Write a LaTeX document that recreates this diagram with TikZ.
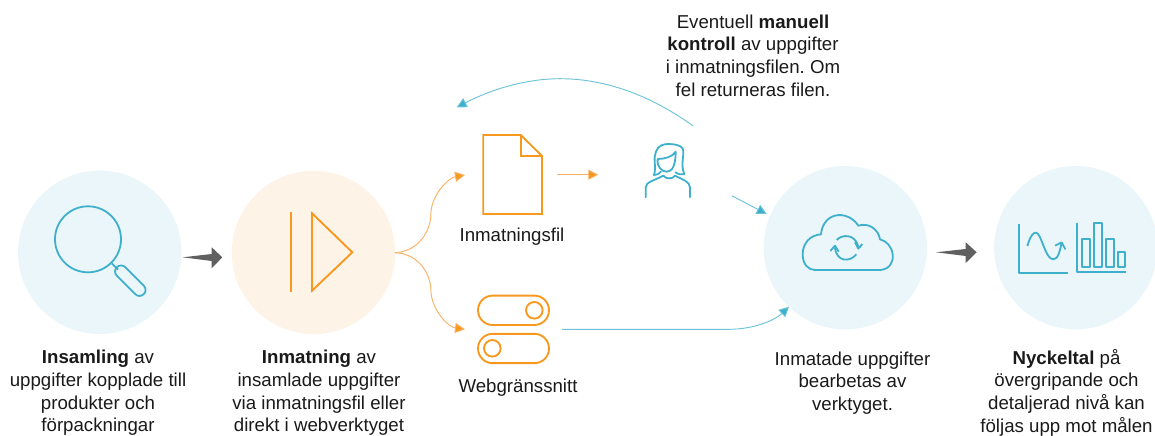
\documentclass[tikz,border=0pt]{standalone}
\usepackage{fontspec}
\setmainfont{Liberation Sans}
\usetikzlibrary{arrows.meta}
\definecolor{tealfill}{HTML}{EAF6F9}
\definecolor{orangefill}{HTML}{FEF3E7}
\definecolor{tealline}{HTML}{3FB0CC}
\definecolor{tealicon}{HTML}{52B9D3}
\definecolor{tealthin}{HTML}{6CC3D8}
\definecolor{orangeline}{HTML}{F7981F}
\definecolor{orangethin}{HTML}{F9B163}
\definecolor{greyarrow}{HTML}{606060}
\definecolor{txt}{HTML}{1A1A1A}
\tikzset{
  disc/.style={circle,draw=none,minimum size=122.5pt,inner sep=0pt},
  label text/.style={align=center,font=\fontsize{14pt}{17pt}\selectfont,text=txt,inner sep=0pt},
  tealicon/.style={draw=tealline,line width=1.35pt,line join=round},
  orangeicon/.style={draw=orangeline,line width=1.4pt,line join=miter},
  orangeflow/.style={draw=orangethin,line width=.7pt,-{Triangle[length=7.5pt,width=7.5pt,fill=orangeline]}},
  tealflow/.style={draw=tealthin,line width=.7pt,-{Triangle[length=7.5pt,width=7.5pt,fill=tealline]}},
  bigarrow/.style={fill=greyarrow,draw=none},
  third/.style={x=.25pt,y=-.25pt}
}
\begin{document}
\frenchspacing
\begin{tikzpicture}[x=.75pt,y=-.75pt]
\useasboundingbox (0,0) rectangle (1155,435);
% discs
\node[disc,fill=tealfill] (search) at (99.7,252.3) {};
\node[disc,fill=orangefill] (input) at (313.5,252.5) {};
\node[disc,fill=tealfill] (cloud) at (845.3,247.7) {};
\node[disc,fill=tealfill] (kpi) at (1075.8,247.7) {};
% magnifier
\draw[tealicon] (88,239.3) circle (33);
\draw[tealicon] (111.7,263.3) -- (118,269.5);
\node[tealicon,draw,rounded corners=4.4pt,rotate=-45,minimum width=28.5pt,minimum height=9pt,inner sep=0pt] (handle) at (130.3,280.7) {};
% play icon
\draw[orangeicon] (291.3,212.3) -- (291.3,292.3);
\draw[orangeicon] (312,213.3) -- (352.3,252.3) -- (312,290.7) -- cycle;
% file icon
\draw[orangeicon] (483.3,135) -- (520.7,135) -- (542,156) -- (542,214) -- (483.3,214) -- cycle;
\draw[orangeicon] (520.7,135) -- (520.7,156) -- (542,156);
% toggles
\node[orangeicon,draw,rounded corners=10.9pt,minimum width=53.2pt,minimum height=22pt,inner sep=0pt] (toggleA) at (513.5,310.3) {};
\draw[orangeicon] (534.3,310.3) circle (8.3);
\node[orangeicon,draw,rounded corners=10.9pt,minimum width=53.2pt,minimum height=22pt,inner sep=0pt] (toggleB) at (513.5,348.5) {};
\draw[orangeicon] (492.3,348.3) circle (8.3);
% person icon
\begin{scope}[xshift=472.5pt,yshift=-101.25pt,third,line width=1.2pt,line cap=round,line join=round]
\draw[tealicon] (72,120) .. controls (80,95) and (68,70) .. (78,50) .. controls (84,32) and (100,26) .. (118,27) .. controls (135,28) and (150,30) .. (158,40) .. controls (165,60) and (150,85) .. (163,118) .. controls (155,120) and (145,118) .. (136,112);
\draw[tealicon] (72,120) .. controls (80,120) and (88,117) .. (93,110);
\draw[tealicon] (83,72) .. controls (80,95) and (95,110) .. (110,110) .. controls (125,110) and (137,95) .. (137,50) .. controls (128,65) and (105,72) .. (83,72);
\draw[tealicon] (47,187) -- (47,158) .. controls (48,140) and (70,138) .. (100,122) .. controls (108,133) and (128,133) .. (135,122) .. controls (160,135) and (180,140) .. (180,158) -- (180,187);
\end{scope}
% cloud icon
\begin{scope}[xshift=592.5pt,yshift=-153.75pt,third,line width=1.35pt,line join=round]
\draw[tealline] (75,195) -- (270,195) .. controls (300,193) and (311,170) .. (308,148) .. controls (305,125) and (290,108) .. (270,103) .. controls (265,72) and (235,52) .. (205,62) .. controls (190,38) and (160,25) .. (135,32) .. controls (110,38) and (95,62) .. (93,88) .. controls (60,90) and (38,115) .. (38,148) .. controls (38,178) and (55,195) .. (75,195) -- cycle;
\draw[tealline] (140,105) .. controls (155,88) and (195,85) .. (205,125);
\draw[tealline] (195,112) -- (205,131) -- (217,117);
\draw[tealline] (199,148) .. controls (180,172) and (140,172) .. (135,128);
\draw[tealline] (121,138) -- (135,122) -- (146,140);
\end{scope}
% chart icon
\begin{scope}[xshift=757.5pt,yshift=-157.5pt,third,line width=1.35pt,line join=miter]
\draw[tealicon] (28,42) -- (28,190) -- (175,190);
\draw[tealicon] (52,108) .. controls (60,80) and (70,66) .. (78,68) .. controls (95,70) and (105,148) .. (130,148) .. controls (145,148) and (150,120) .. (155,98);
\draw[tealicon] (135,107) -- (155,97) -- (166,118);
\draw[tealicon] (200,40) -- (200,186) -- (347,186);
\draw[tealicon] (217,88) rectangle (241,170);
\draw[tealicon] (252,40) rectangle (276,170);
\draw[tealicon] (288,88) rectangle (311,170);
\draw[tealicon] (323,125) rectangle (346,170);
\end{scope}
% connector ends
\coordinate (fanout) at (395,252.7);
\coordinate (fileIn) at (465,175);
\coordinate (fileOut) at (557.3,174.7);
\coordinate (personIn) at (598.3,174.7);
\coordinate (webIn) at (465,329.3);
\coordinate (webOut) at (562,329.3);
\coordinate (personOut) at (731.7,195.7);
\coordinate (cloudA) at (766.7,214);
\coordinate (cloudB) at (789,306.7);
\coordinate (returnStart) at (693.3,126);
\coordinate (returnEnd) at (456.7,107.3);
\coordinate (returnTop) at (560,78.7);
% connectors
\draw[orangeflow] (fanout) .. controls (415,252) and (431,235) .. (431,212) .. controls (432,195) and (448,178) .. (fileIn);
\draw[orangeflow] (fanout) .. controls (415,253) and (431,270) .. (431,292) .. controls (432,310) and (448,327) .. (webIn);
\draw[orangeflow] (fileOut) -- (personIn);
\draw[tealflow] (personOut) -- (cloudA);
\draw[tealflow] (webOut) -- (730,329.3) .. controls (755,329) and (775,320) .. (cloudB);
\draw[tealflow] (returnStart) .. controls (650,95) and (605,78.7) .. (returnTop) .. controls (525,78.7) and (490,90) .. (returnEnd);
% grey arrows
\path[bigarrow] (182.7,257.3) -- (211.7,254) -- (211.7,247.3) -- (222.3,257.3) -- (211.7,268.3) -- (211.7,261) -- cycle;
\path[bigarrow] (936,252.3) -- (965.7,249) -- (965.7,242.3) -- (976.7,252.3) -- (965.7,263) -- (965.7,256) -- cycle;
% labels
\node[label text] (t1) at (98,393) {\textbf{Insamling} av\\uppgifter kopplade till\\produkter och\\förpackningar};
\node[label text] (t2) at (319,393) {\textbf{Inmatning} av\\insamlade uppgifter\\via inmatningsfil eller\\direkt i webverktyget};
\node[label text] (t3) at (852.5,383) {Inmatade uppgifter\\bearbetas av\\verktyget.};
\node[label text] (t4) at (1066.5,392.5) {\textbf{Nyckeltal} på\\övergripande och\\detaljerad nivå kan\\följas upp mot målen};
\node[label text] (t5) at (753,55.5) {Eventuell \textbf{manuell}\\\textbf{kontroll} av uppgifter\\i inmatningsfilen. Om\\fel returneras filen.};
\node[label text] (t6) at (512,236.5) {Inmatningsfil};
\node[label text] (t7) at (518,387.5) {Webgränssnitt};
\end{tikzpicture}
\end{document}
